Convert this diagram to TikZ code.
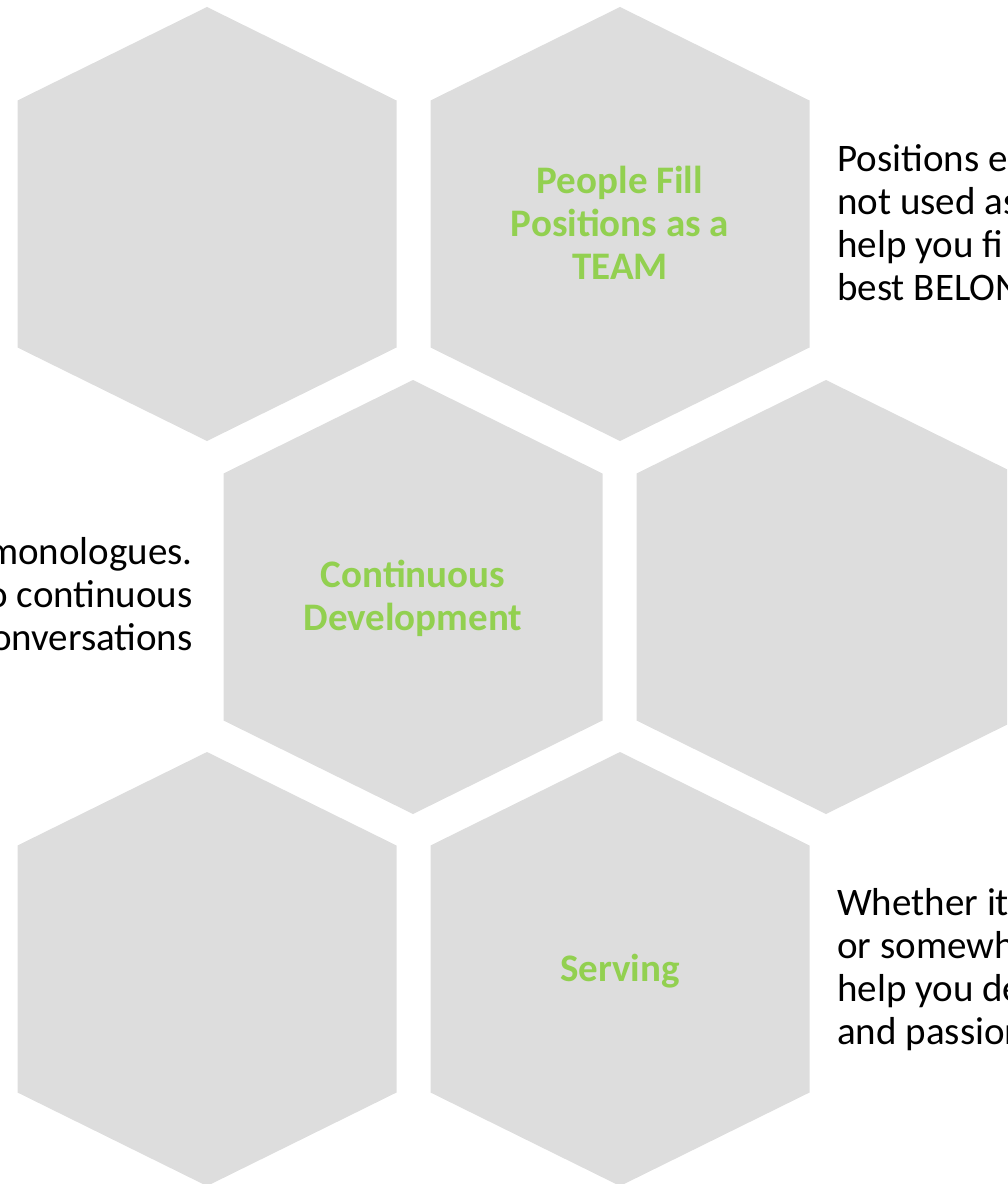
\documentclass[tikz,border=0pt]{standalone}
\usepackage{fontspec}
\setmainfont{Carlito}
\definecolor{hexgray}{HTML}{DDDDDD}
\definecolor{leafgreen}{HTML}{92D050}
\tikzset{
  hex/.style={fill=hexgray},
  title/.style={text=leafgreen, font=\fontsize{29.25}{32.25}\selectfont\bfseries, align=center, inner sep=0pt},
  note/.style={text=black, font=\fontsize{29.25}{32.25}\selectfont, inner sep=0pt},
}
\begin{document}
\begin{tikzpicture}[x=0.75pt,y=-0.75pt]
  \useasboundingbox (0,0) rectangle (1007,1184);
  \clip (0,0) rectangle (1007,1184);

  % honeycomb
  \foreach \n/\cx/\cy in {hexA/207/224, hexB/620/224, hexC/413/597, hexD/826/597, hexE/207/969, hexF/620/969} {
    \coordinate (\n) at (\cx,\cy);
    \fill[hex] ([shift={(0,-217)}]\n) -- ([shift={(189.5,-123.5)}]\n) -- ([shift={(189.5,123.5)}]\n)
      -- ([shift={(0,217)}]\n) -- ([shift={(-189.5,123.5)}]\n) -- ([shift={(-189.5,-123.5)}]\n) -- cycle;
  }

  \node[title] (team) at (620,222.5) {People Fill\\Positions as a\\TEAM};
  \node[title] (dev) at (413,598) {Continuous\\Development};
  \node[title] (serve) at (620,971.5) {Serving};

  \node[note, anchor=west, align=left] (teamnote) at (837,222.5) {Positions e\\not used as\\help you fi\\best BELONG};
  \node[note, anchor=east, align=right] (devnote) at (193,594) {monologues.\\to continuous\\conversations};
  \node[note, anchor=west, align=left] (servenote) at (837,970) {Whether it\\or somewh\\help you de\\and passion};
\end{tikzpicture}
\end{document}
